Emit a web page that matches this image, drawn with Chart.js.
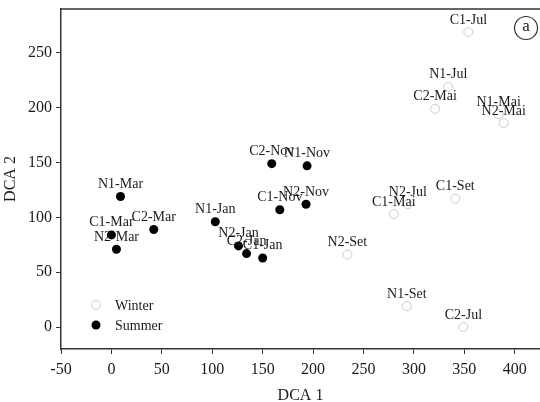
<!DOCTYPE html>
<html>
<head>
<meta charset="utf-8">
<script src="https://cdn.jsdelivr.net/npm/chart.js@4.4.1/dist/chart.umd.min.js"></script>
<style>
  html, body { margin: 0; padding: 0; background: #fff; }
  #wrap { width: 540px; height: 402px; }
</style>
</head>
<body>
<div id="wrap"><canvas id="c"></canvas></div>
<script>
/* DCA-Ordination: Winter (offen) vs. Summer (gefüllt) */

const winterLabels = ["C1-Jul", "N1-Jul", "C2-Mai", "N1-Mai", "N2-Mai", "C1-Set", "N2-Jul", "C1-Mai", "N2-Set", "N1-Set", "C2-Jul"];
const winterX = [354, 334, 321, 384, 389, 341, 294, 280, 234, 293, 349];
const winterY = [269, 219, 199, 194, 186, 117, 112, 103, 66, 19, 0];

const summerLabels = ["N1-Mar", "C1-Mar", "N2-Mar", "C2-Mar", "N1-Jan", "N2-Jan", "C2-Jan", "C1-Jan", "C2-Nov", "N1-Nov", "C1-Nov", "N2-Nov"];
const summerX = [9, 0, 5, 42, 103, 126, 134, 150, 159, 194, 167, 193];
const summerY = [119, 84, 71, 89, 96, 74, 67, 63, 149, 147, 107, 112];

const xTicks = [-50, 0, 50, 100, 150, 200, 250, 300, 350, 400];
const yTicks = [0, 50, 100, 150, 200, 250];

const SERIF = "'Liberation Serif', 'Times New Roman', serif";
const INK = "#1a1a1a", AXIS = "#333333", WINTER = "#cccccc";

const pts = (xs, ys) => xs.map((x, i) => ({ x, y: ys[i] }));

/* Punktbeschriftungen, Rahmen oben, Legende, Panel-Marke */
const decor = {
  id: "decor",
  afterDatasetsDraw(chart) {
    const ctx = chart.ctx;
    const { left, right, top } = chart.chartArea;
    ctx.save();
    ctx.fillStyle = INK;
    ctx.font = "14px " + SERIF;
    ctx.textAlign = "center";
    ctx.textBaseline = "alphabetic";
    chart.data.datasets.forEach((ds, di) => {
      chart.getDatasetMeta(di).data.forEach((el, i) => {
        ctx.fillText(ds.names[i], el.x, el.y - 8.5);
      });
    });

    // oberer Rahmen
    ctx.strokeStyle = AXIS;
    ctx.lineWidth = 1.5;
    ctx.beginPath();
    ctx.moveTo(left, top);
    ctx.lineTo(right, top);
    ctx.stroke();

    // Legende
    const lx = 96, ly = [305, 325];
    chart.data.datasets.forEach((ds, di) => {
      ctx.beginPath();
      ctx.arc(lx, ly[di], 4.5, 0, Math.PI * 2);
      if (ds.pointBackgroundColor !== "transparent") {
        ctx.fillStyle = ds.pointBackgroundColor;
        ctx.fill();
      } else {
        ctx.strokeStyle = ds.pointBorderColor;
        ctx.lineWidth = 1;
        ctx.stroke();
      }
      ctx.fillStyle = INK;
      ctx.textAlign = "left";
      ctx.textBaseline = "middle";
      ctx.fillText(ds.label, 115, ly[di] + 1);
    });

    // (a)
    ctx.strokeStyle = AXIS;
    ctx.lineWidth = 1.2;
    ctx.beginPath();
    ctx.arc(526, 28, 11.5, 0, Math.PI * 2);
    ctx.stroke();
    ctx.fillStyle = INK;
    ctx.textAlign = "center";
    ctx.font = "17px " + SERIF;
    ctx.fillText("a", 526, 27);
    ctx.restore();
  },
};

new Chart(document.getElementById("c"), {
  type: "scatter",
  data: {
    datasets: [
      {
        label: "Winter",
        names: winterLabels,
        data: pts(winterX, winterY),
        pointRadius: 4.5,
        pointBackgroundColor: "transparent",
        pointBorderColor: WINTER,
        pointBorderWidth: 1,
      },
      {
        label: "Summer",
        names: summerLabels,
        data: pts(summerX, summerY),
        pointRadius: 4.5,
        pointBackgroundColor: "#000000",
        pointBorderColor: "#000000",
        pointBorderWidth: 0,
      },
    ],
  },
  options: {
    responsive: true,
    maintainAspectRatio: false,
    animation: false,
    events: [],
    layout: { autoPadding: false, padding: { top: 9, right: 0, left: 0, bottom: 0 } },
    plugins: { legend: { display: false }, tooltip: { enabled: false } },
    scales: {
      x: {
        type: "linear",
        min: -50,
        max: 425,
        afterBuildTicks: (s) => { s.ticks = xTicks.map((v) => ({ value: v })); },
        afterFit: (s) => { s.height = 53; s.paddingLeft = 0; s.paddingRight = 0; },
        grid: { drawOnChartArea: false, drawTicks: true, tickLength: 5, tickColor: AXIS, lineWidth: 1 },
        border: { color: AXIS, width: 1.5 },
        ticks: { color: INK, font: { family: SERIF, size: 16 }, padding: 6, maxRotation: 0 },
        title: { display: true, text: "DCA 1", color: INK, font: { family: SERIF, size: 16 }, padding: { top: 0, bottom: -3 } },
      },
      y: {
        type: "linear",
        min: -20,
        max: 290,
        afterBuildTicks: (s) => { s.ticks = yTicks.map((v) => ({ value: v })); },
        afterFit: (s) => { s.width = 61; s.paddingTop = 0; s.paddingBottom = 0; },
        grid: { drawOnChartArea: false, drawTicks: true, tickLength: 5, tickColor: AXIS, lineWidth: 1 },
        border: { color: AXIS, width: 1.5 },
        ticks: { color: INK, font: { family: SERIF, size: 16 }, padding: 4 },
        title: { display: true, text: "DCA 2", color: INK, font: { family: SERIF, size: 16 }, padding: { top: 1, bottom: 0 } },
      },
    },
  },
  plugins: [decor],
});
</script>
</body>
</html>
